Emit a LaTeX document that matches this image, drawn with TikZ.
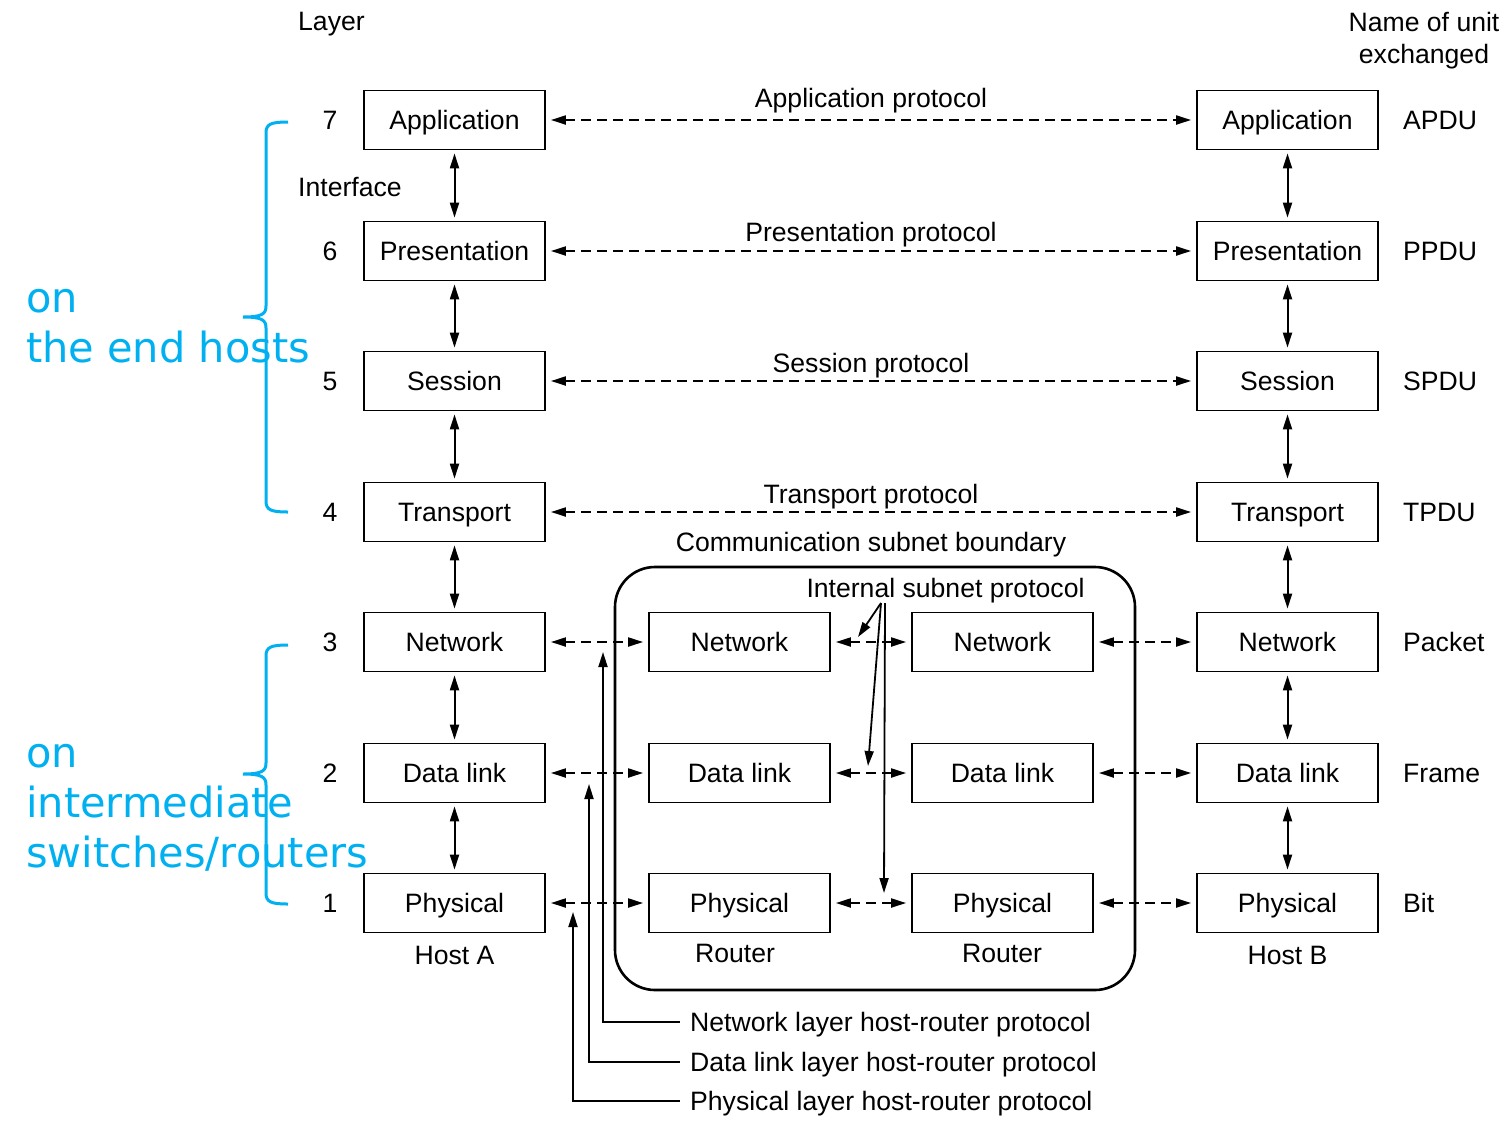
\documentclass[tikz,border=0pt]{standalone}
\usepackage{fontspec}
\setmainfont{Liberation Sans}
\newfontfamily\bluefont{DejaVu Sans}
\usetikzlibrary{arrows.meta}
\definecolor{annot}{RGB}{0,176,240}
\begin{document}
\begin{tikzpicture}[x=1pt,y=-1pt,
  >={Triangle[length=15pt,width=9pt]},
  every node/.style={font=\fontsize{26.6}{31}\selectfont, inner sep=0pt, text height=19pt, text depth=0pt},
  layerbox/.style={draw, line width=1.8pt, minimum width=181pt, minimum height=59pt},
  peer/.style={<->, dash pattern=on 10pt off 6pt, line width=2pt, shorten <=5pt, shorten >=5pt},
  iface/.style={<->, line width=2pt, shorten <=3pt, shorten >=3pt},
  lead/.style={->, line width=1.8pt},
  bracepath/.style={draw=annot, line width=3pt},
  ann/.style={text=annot, font=\bluefont\fontsize{41.5}{50}\selectfont, anchor=base west},
  lbl/.style={anchor=west}
]
\useasboundingbox (0,0) rectangle (1510,1125);

% headings
\node[lbl] (hlayer) at (298,21) {Layer};
\node (hunit1) at (1424,22) {Name of unit};
\node (hunit2) at (1424,54) {exchanged};
\node[lbl] (hiface) at (298,187) {Interface};

% host A
\node[layerbox] (a7) at (454.5,120) {Application};
\node[layerbox] (a6) at (454.5,251) {Presentation};
\node[layerbox] (a5) at (454.5,381) {Session};
\node[layerbox] (a4) at (454.5,512) {Transport};
\node[layerbox] (a3) at (454.5,642) {Network};
\node[layerbox] (a2) at (454.5,773) {Data link};
\node[layerbox] (a1) at (454.5,903) {Physical};
\node (hosta) at (454.5,955) {Host A};

% host B
\node[layerbox] (b7) at (1287.5,120) {Application};
\node[layerbox] (b6) at (1287.5,251) {Presentation};
\node[layerbox] (b5) at (1287.5,381) {Session};
\node[layerbox] (b4) at (1287.5,512) {Transport};
\node[layerbox] (b3) at (1287.5,642) {Network};
\node[layerbox] (b2) at (1287.5,773) {Data link};
\node[layerbox] (b1) at (1287.5,903) {Physical};
\node (hostb) at (1287.5,955) {Host B};

% subnet
\node[draw, line width=2.6pt, rounded corners=40pt, minimum width=520pt, minimum height=423pt] (subnet) at (875,778.5) {};
\node (csb) at (871,542) {Communication subnet boundary};
\node (isp) at (945.5,588) {Internal subnet protocol};

\node[layerbox] (r3) at (739.5,642) {Network};
\node[layerbox] (r2) at (739.5,773) {Data link};
\node[layerbox] (r1) at (739.5,903) {Physical};
\node (rt1) at (735,953) {Router};
\node[layerbox] (s3) at (1002.5,642) {Network};
\node[layerbox] (s2) at (1002.5,773) {Data link};
\node[layerbox] (s1) at (1002.5,903) {Physical};
\node (rt2) at (1002,953) {Router};

% layer numbers
\node (n7) at (330,120) {7};
\node (n6) at (330,251) {6};
\node (n5) at (330,381) {5};
\node (n4) at (330,512) {4};
\node (n3) at (330,642) {3};
\node (n2) at (330,773) {2};
\node (n1) at (330,903) {1};

% unit names
\node[lbl] (u7) at (1403,120) {APDU};
\node[lbl] (u6) at (1403,251) {PPDU};
\node[lbl] (u5) at (1403,381) {SPDU};
\node[lbl] (u4) at (1403,512) {TPDU};
\node[lbl] (u3) at (1403,642) {Packet};
\node[lbl] (u2) at (1403,773) {Frame};
\node[lbl] (u1) at (1403,903) {Bit};

% protocol labels
\node (p7) at (871,98) {Application protocol};
\node (p6) at (871,232) {Presentation protocol};
\node (p5) at (871,363) {Session protocol};
\node (p4) at (871,494) {Transport protocol};

% peer protocols
\draw[peer] (a7) -- (b7);
\draw[peer] (a6) -- (b6);
\draw[peer] (a5) -- (b5);
\draw[peer] (a4) -- (b4);
\draw[peer] (a3) -- (r3);
\draw[peer] (a2) -- (r2);
\draw[peer] (a1) -- (r1);
\draw[peer] (r3) -- (s3);
\draw[peer] (r2) -- (s2);
\draw[peer] (r1) -- (s1);
\draw[peer] (s3) -- (b3);
\draw[peer] (s2) -- (b2);
\draw[peer] (s1) -- (b1);

% interfaces
\foreach \u/\l in {7/6,6/5,5/4,4/3,3/2,2/1}{
  \draw[iface] (a\u) -- (a\l);
  \draw[iface] (b\u) -- (b\l);
}

% internal subnet protocol pointers
\coordinate (isa) at (881,603);
\coordinate (isb) at (885,603);
\coordinate (ist3) at (858,637);
\coordinate (ist2) at (868,766);
\coordinate (ist1) at (884,893);
\draw[lead] (isa) -- (ist3);
\draw[lead] (isa) -- (ist2);
\draw[lead] (isb) -- (ist1);

% host-router protocols
\node[lbl, inner xsep=10pt] (hrn) at (680,1022) {Network layer host-router protocol};
\node[lbl, inner xsep=10pt] (hrd) at (680,1062) {Data link layer host-router protocol};
\node[lbl, inner xsep=10pt] (hrp) at (680,1101) {Physical layer host-router protocol};
\coordinate (tn) at (603,652);
\coordinate (td) at (589,784);
\coordinate (tp) at (573,912);
\draw[lead] (hrn.west) -| (tn);
\draw[lead] (hrd.west) -| (td);
\draw[lead] (hrp.west) -| (tp);

% braces
\draw[bracepath] (288,122) .. controls (271,122) and (266,124) .. (266,133) -- (266,306)
  .. controls (266,314) and (262,317) .. (243,317)
  .. controls (262,317) and (266,320) .. (266,328) -- (266,501)
  .. controls (266,510) and (271,512) .. (288,512);
\draw[bracepath] (288,645) .. controls (271,645) and (266,647) .. (266,656) -- (266,763)
  .. controls (266,771) and (262,774) .. (243,774)
  .. controls (262,774) and (266,777) .. (266,785) -- (266,893)
  .. controls (266,902) and (271,904) .. (288,904);

% annotations
\node[ann] (e1) at (26,312) {on};
\node[ann] (e2) at (26,362) {the end hosts};
\node[ann] (i1) at (26,767) {on};
\node[ann] (i2) at (26,817) {intermediate};
\node[ann] (i3) at (26,867) {switches/routers};
\end{tikzpicture}
\end{document}
